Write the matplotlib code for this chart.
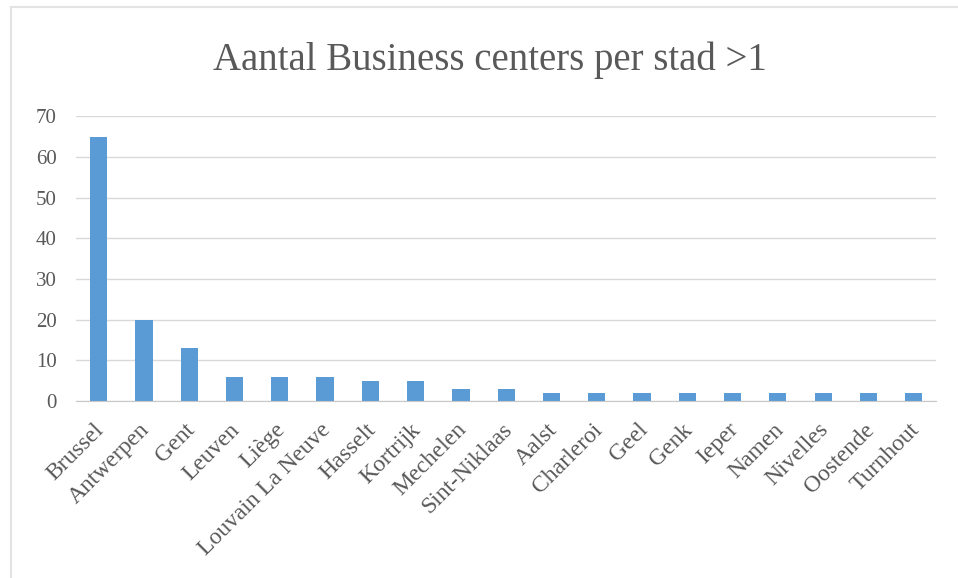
import matplotlib.pyplot as plt
from matplotlib.lines import Line2D
from matplotlib.transforms import ScaledTranslation

steden = ['Brussel', 'Antwerpen', 'Gent', 'Leuven', 'Liège', 'Louvain La Neuve',
          'Hasselt', 'Kortrijk', 'Mechelen', 'Sint-Niklaas', 'Aalst', 'Charleroi',
          'Geel', 'Genk', 'Ieper', 'Namen', 'Nivelles', 'Oostende', 'Turnhout']
aantal = [65, 20, 13, 6, 6, 6, 5, 5, 3, 3, 2, 2, 2, 2, 2, 2, 2, 2, 2]
y_ticks = [0, 10, 20, 30, 40, 50, 60, 70]

plt.rcParams['font.family'] = ['Liberation Serif', 'DejaVu Serif']

fig = plt.figure(figsize=(9.58, 5.78), dpi=100)
ax = fig.add_axes([0.0794, 0.306, 0.898, 0.493])

x = range(len(steden))
ax.bar(x, aantal, width=0.38, color='#5b9bd5', zorder=3)

ax.set_xlim(-0.5, len(steden) - 0.5)
ax.set_ylim(0, 70)
ax.set_yticks(y_ticks)
ax.set_yticklabels([str(t) for t in y_ticks], fontsize=15, color='#595959')
ax.set_xticks(list(x))
ax.set_xticklabels(steden, rotation=45, ha='right', rotation_mode='anchor',
                   fontsize=17, color='#595959')
ax.tick_params(axis='both', length=0)
ax.tick_params(axis='y', pad=14)
ax.tick_params(axis='x', pad=13)

# labels iets naar links schuiven
shift = ScaledTranslation(-0.05, 0, fig.dpi_scale_trans)
for lbl in ax.get_xticklabels():
    lbl.set_transform(lbl.get_transform() + shift)

ax.grid(axis='y', color='#d9d9d9', linewidth=1, zorder=0)
for s in ['top', 'right', 'left']:
    ax.spines[s].set_visible(False)
ax.spines['bottom'].set_color('#c8c8c8')
ax.spines['bottom'].set_zorder(4)

fig.text(0.511, 0.895, 'Aantal Business centers per stad >1', ha='center', va='center',
         fontsize=28, color='#595959')

# lichte kaderlijnen bovenaan en links
fig.add_artist(Line2D([0.012, 1.0], [0.988, 0.988], color='#e3e3e3', linewidth=1.5))
fig.add_artist(Line2D([0.012, 0.012], [0.0, 0.988], color='#e3e3e3', linewidth=1.5))

fig.savefig('out.png', dpi=100, facecolor='white')
